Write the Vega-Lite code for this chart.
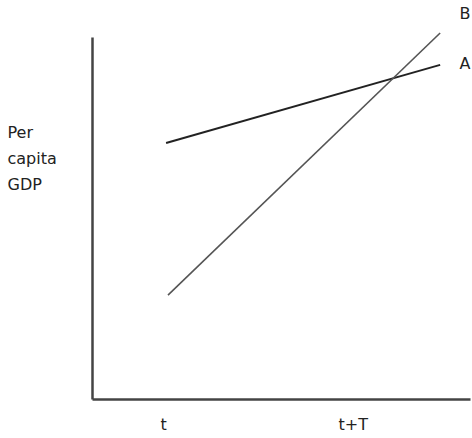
{
  "$schema": "https://vega.github.io/schema/vega-lite/v6.json",
  "width": 378,
  "height": 362,
  "autosize": {"type": "none"},
  "padding": {"left": 92, "top": 37, "right": 2, "bottom": 39},
  "background": "white",
  "config": {"view": {"stroke": null}, "font": "DejaVu Sans"},
  "datasets": {
    "lines": [
      {"series": "A", "time": 19.6, "gdp": 70.7},
      {"series": "A", "time": 92.1, "gdp": 92.3},
      {"series": "B", "time": 20.1, "gdp": 28.7},
      {"series": "B", "time": 92.1, "gdp": 101.1}
    ],
    "labels": [
      {"series": "B", "time": 98.7, "gdp": 106.4},
      {"series": "A", "time": 98.7, "gdp": 92.5}
    ]
  },
  "layer": [
    {
      "data": {"name": "lines"},
      "mark": {"type": "line", "clip": false},
      "encoding": {
        "x": {
          "field": "time", "type": "quantitative",
          "scale": {"domain": [0, 100], "nice": false, "zero": false},
          "axis": {
            "values": [18.8, 69],
            "labelExpr": "datum.value < 40 ? 't' : 't+T'",
            "ticks": false, "grid": false, "title": null,
            "domainColor": "#444", "domainWidth": 2.5,
            "labelFontSize": 16, "labelColor": "#222", "labelPadding": 17,
            "labelFont": "DejaVu Sans"
          }
        },
        "y": {
          "field": "gdp", "type": "quantitative",
          "scale": {"domain": [0, 100], "nice": false, "zero": false},
          "axis": {
            "labels": false, "ticks": false, "grid": false,
            "domainColor": "#444", "domainWidth": 2.5,
            "title": ["Per", "capita", "GDP"],
            "titleAngle": 0, "titleAlign": "left", "titleBaseline": "alphabetic",
            "titleX": -85, "titleY": 100, "titleLineHeight": 26,
            "titleFontSize": 16, "titleFontWeight": "normal", "titleColor": "#222",
            "titleFont": "DejaVu Sans"
          }
        },
        "detail": {"field": "series"},
        "color": {
          "field": "series", "type": "nominal",
          "scale": {"domain": ["A", "B"], "range": ["#222222", "#555555"]},
          "legend": null
        },
        "strokeWidth": {
          "field": "series", "type": "nominal",
          "scale": {"domain": ["A", "B"], "range": [2, 1.6]},
          "legend": null
        }
      }
    },
    {
      "data": {"name": "labels"},
      "mark": {"type": "text", "clip": false, "fontSize": 16, "align": "center", "baseline": "middle", "color": "#222", "font": "DejaVu Sans"},
      "encoding": {
        "x": {"field": "time", "type": "quantitative"},
        "y": {"field": "gdp", "type": "quantitative"},
        "text": {"field": "series"}
      }
    }
  ]
}
